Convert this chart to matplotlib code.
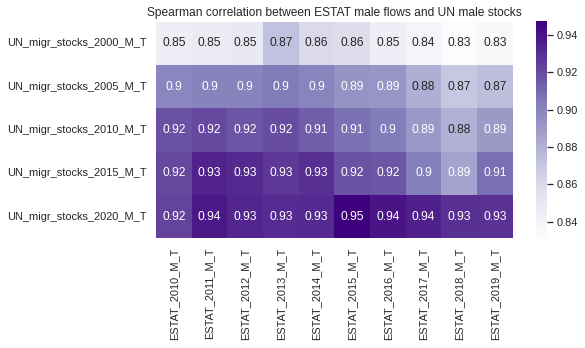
import matplotlib
matplotlib.use("Agg")
import matplotlib.pyplot as plt
import seaborn as sns
import numpy as np
import pandas as pd

sns.set_theme()
plt.rcParams['font.family'] = ['Liberation Sans', 'DejaVu Sans']

rows = ["UN_migr_stocks_2000_M_T", "UN_migr_stocks_2005_M_T", "UN_migr_stocks_2010_M_T",
        "UN_migr_stocks_2015_M_T", "UN_migr_stocks_2020_M_T"]
cols = ["ESTAT_2010_M_T", "ESTAT_2011_M_T", "ESTAT_2012_M_T", "ESTAT_2013_M_T", "ESTAT_2014_M_T",
        "ESTAT_2015_M_T", "ESTAT_2016_M_T", "ESTAT_2017_M_T", "ESTAT_2018_M_T", "ESTAT_2019_M_T"]

row_2000 = [0.846, 0.848, 0.849, 0.872, 0.860, 0.858, 0.846, 0.838, 0.831, 0.834]
row_2005 = [0.899, 0.901, 0.901, 0.904, 0.900, 0.893, 0.892, 0.881, 0.870, 0.874]
row_2010 = [0.918, 0.921, 0.917, 0.920, 0.914, 0.907, 0.903, 0.891, 0.880, 0.890]
row_2015 = [0.922, 0.934, 0.932, 0.927, 0.930, 0.918, 0.917, 0.902, 0.886, 0.908]
row_2020 = [0.923, 0.938, 0.933, 0.931, 0.932, 0.9475, 0.940, 0.936, 0.930, 0.929]

df = pd.DataFrame([row_2000, row_2005, row_2010, row_2015, row_2020], index=rows, columns=cols)

fig = plt.figure(figsize=(585/72, 348/72), dpi=72)
ax = fig.add_axes([0.2667, 0.3152, 0.6097, 0.6224])
cax = fig.add_axes([0.9162, 0.3152, 0.0188, 0.6245])
sns.heatmap(df, annot=True, fmt=".2g", cmap="Purples", ax=ax, cbar_ax=cax)
ax.set_title("Spearman correlation between ESTAT male flows and UN male stocks", fontsize=12)
ax.tick_params(axis='both', labelsize=11)
cax.tick_params(labelsize=11)
for t in ax.texts:
    t.set_fontsize(12)
fig.savefig("out.png", dpi=72, facecolor="white")
